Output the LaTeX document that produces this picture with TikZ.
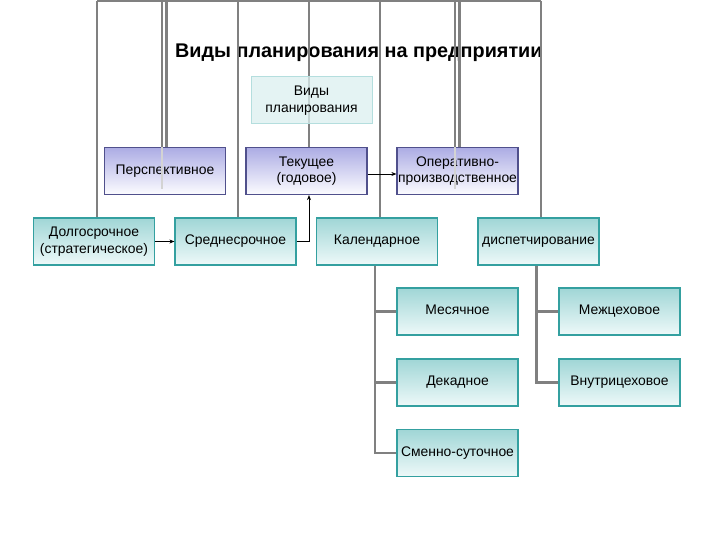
\documentclass[tikz,border=0pt]{standalone}
\usepackage{fontspec}
\setmainfont{Liberation Sans}
\usetikzlibrary{arrows.meta,calc}
\definecolor{conn}{RGB}{128,128,128}
\definecolor{tealbd}{RGB}{52,160,160}
\definecolor{tealtop}{RGB}{160,214,214}
\definecolor{tealbot}{RGB}{238,249,249}
\definecolor{purbd}{RGB}{80,80,140}
\definecolor{purtop}{RGB}{172,172,228}
\definecolor{purbot}{RGB}{252,252,255}
\definecolor{vidfill}{RGB}{220,240,240}
\definecolor{vidbd}{RGB}{180,222,222}
\tikzset{
  base/.style={rectangle,minimum width=121pt,minimum height=47pt,inner sep=1pt,
    align=center,font=\fontsize{13.9}{16.5}\selectfont,text=black},
  one/.style={text height=10pt,text depth=3pt},
  tealbox/.style={base,draw=tealbd,line width=1.2pt,top color=tealtop,bottom color=tealbot},
  purbox/.style={base,draw=purbd,line width=1.2pt,top color=purtop,bottom color=purbot},
  vidbox/.style={base,draw=vidbd,line width=1pt,fill=vidfill,fill opacity=0.75,text opacity=1},
  gline/.style={draw=conn,line width=2.4pt},
  thru/.style={draw=conn!35,line width=1.6pt},
  blk/.style={draw=black,line width=0.8pt,-{Stealth[length=5pt,width=4pt]}},
}
\begin{document}
\begin{tikzpicture}[x=1pt,y=1pt]
\useasboundingbox (0,0) rectangle (720,540);
\fill[white] (0,0) rectangle (720,540);
% title
\node[anchor=base west,inner sep=0,font=\fontsize{19.8}{22}\selectfont\bfseries] (title) at (175,482) {Виды планирования на предприятии};
% nodes
\node[purbox,one] (persp) at (165,369) {Перспективное};
\node[purbox] (tek) at (306.5,369) {Текущее\\(годовое)};
\node[purbox] (oper) at (457.5,369) {Оперативно-\\производственное};
\node[tealbox] (dolg) at (94,298.5) {Долгосрочное\\(стратегическое)};
\node[tealbox,one] (sred) at (235.5,298.5) {Среднесрочное};
\node[tealbox,one] (kal) at (377,298.5) {Календарное};
\node[tealbox,one] (disp) at (538.5,298.5) {диспетчирование};
\node[tealbox,one] (mes) at (457.5,228.5) {Месячное};
\node[tealbox,one] (dek) at (457.5,157.5) {Декадное};
\node[tealbox,one] (smen) at (457.5,87) {Сменно-суточное};
\node[tealbox,one] (mezh) at (619.5,228.5) {Межцеховое};
\node[tealbox,one] (vnut) at (619.5,157.5) {Внутрицеховое};
% top coordinates
\coordinate (t1) at (97,539);
\coordinate (t2a) at (162,539);
\coordinate (t2b) at (166.5,539);
\coordinate (t3) at (238,539);
\coordinate (t4) at (309,539);
\coordinate (t5) at (380,539);
\coordinate (t6a) at (455,539);
\coordinate (t6b) at (459.5,539);
\coordinate (t7) at (541,539);
% top lines
\draw[gline] (t1) -- (t7);
\draw[gline] (t1) -- (t1 |- dolg.north);
\draw[gline] (t2a) -- (t2a |- persp.north);
\draw[gline] (t2b) -- (t2b |- persp.north);
\draw[gline] (t3) -- (t3 |- sred.north);
\draw[gline] (t4) -- (t4 |- tek.north);
\draw[gline] (t5) -- (t5 |- kal.north);
\draw[gline] (t6a) -- (t6a |- oper.north);
\draw[gline] (t6b) -- (t6b |- oper.north);
\draw[gline] (t7) -- (t7 |- disp.north);
% lines seen through boxes
\draw[thru] (t2a |- persp.north) -- ($(t2a |- persp.south)+(0,6)$);
\draw[thru] (t6a |- oper.north) -- ($(t6a |- oper.south)+(0,6)$);
% Виды планирования box over the line
\node[vidbox] (vid) at (311.5,439.5) {Виды\\планирования};
% arrows
\draw[blk] (dolg.east) -- (sred.west);
\draw[blk] (sred.east) -| (tek.south -| t4);
\draw[blk] ($(tek.east)+(0,-3)$) -- ($(oper.west)+(0,-3)$);
% branches
\draw[gline] ($(kal.south)+(-2,0)$) |- (mes.west);
\draw[gline] ($(kal.south)+(-2,0)$) |- (dek.west);
\draw[gline] ($(kal.south)+(-2,0)$) |- (smen.west);
\draw[gline] ($(disp.south)+(-2,0)$) |- (mezh.west);
\draw[gline] ($(disp.south)+(-2,0)$) |- (vnut.west);
\end{tikzpicture}
\end{document}
